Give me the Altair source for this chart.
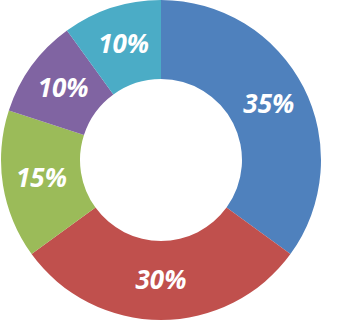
import altair as alt
import pandas as pd

categories = ["A", "B", "C", "D", "E"]
values = [35, 30, 15, 10, 10]
labels = ["35%", "30%", "15%", "10%", "10%"]
colors = ["#4F81BD", "#C0504D", "#9BBB59", "#8064A2", "#4BACC6"]

df = pd.DataFrame({"cat": categories, "value": values, "label": labels,
                   "ord": list(range(len(categories)))})

base = alt.Chart(df).encode(
    theta=alt.Theta("value:Q", stack=True),
    order=alt.Order("ord:Q"),
)

arc = base.mark_arc(outerRadius=160, innerRadius=81).encode(
    color=alt.Color("cat:N", scale=alt.Scale(domain=categories, range=colors), legend=None),
    x=alt.value(161), y=alt.value(160),
)

text = base.mark_text(radius=121, font="Open Sans", fontSize=26, fontWeight="bold",
                      fontStyle="italic", color="white", align="center", baseline="middle").encode(
    text="label:N",
    x=alt.value(161), y=alt.value(160),
)

chart = alt.layer(arc, text).properties(
    width=337, height=321, autosize=alt.AutoSizeParams(type="none"), padding=0
).configure_view(stroke=None)

chart.save("out.html", embed_options={"renderer": "svg", "actions": False})
